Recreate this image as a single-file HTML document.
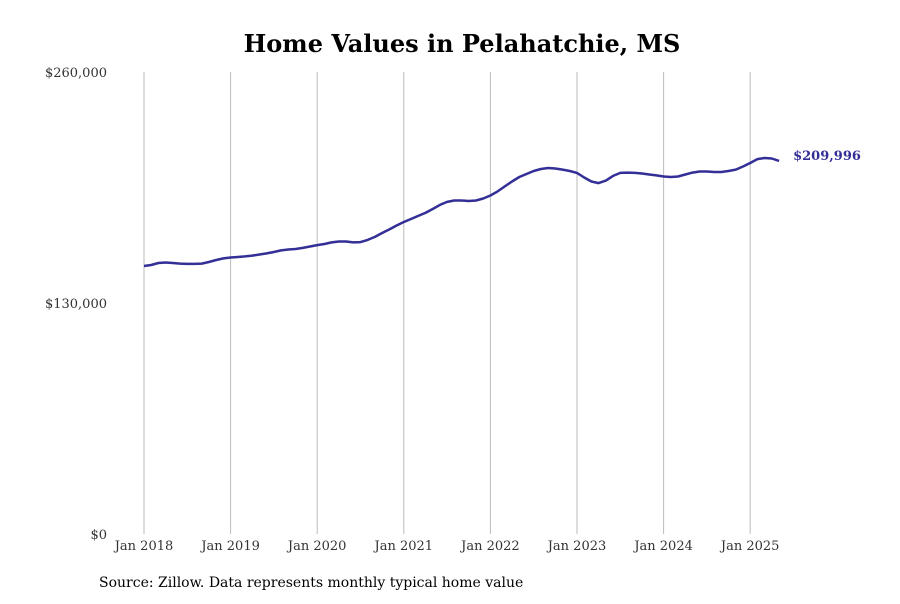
<!DOCTYPE html>
<html><head><meta charset="utf-8"><style>
body{margin:0;background:#fff;font-family:"DejaVu Serif",serif}
svg text{font-family:"DejaVu Serif",serif}
</style></head><body>
<svg width="900" height="600" xmlns="http://www.w3.org/2000/svg">
<rect width="900" height="600" fill="#fff"/>
<text x="462" y="52" text-anchor="middle" font-size="24" font-weight="bold">Home Values in Pelahatchie, MS</text>
<g id="grid"></g><g id="yaxis"></g><g id="xaxis"></g>
<path id="line" fill="none" stroke="#332f96" stroke-width="2.5" stroke-linejoin="round"/>
<text id="lastlabel" font-size="13" font-weight="bold" fill="#332f96"></text>
<text x="99" y="587" font-size="14">Source: Zillow. Data represents monthly typical home value</text>
</svg>
<script>
const yTicks=[0,130000,260000];
const yTickLabels=["$0","$130,000","$260,000"];
const xYears=[2018,2019,2020,2021,2022,2023,2024,2025];
const xTickLabels=["Jan 2018","Jan 2019","Jan 2020","Jan 2021","Jan 2022","Jan 2023","Jan 2024","Jan 2025"];
const startYear=2018;
const values=[150.8,151.4,152.5,152.8,152.5,152.2,152.0,152.0,152.2,153.1,154.2,155.1,
155.6,155.9,156.2,156.7,157.3,157.9,158.7,159.6,160.1,160.4,161.0,161.8,
162.6,163.2,164.1,164.6,164.6,164.1,164.3,165.5,167.2,169.4,171.4,173.6,
175.6,177.3,179.0,180.7,182.9,185.2,186.9,187.7,187.7,187.4,187.7,188.8,
190.5,192.8,195.6,198.4,200.9,202.6,204.3,205.4,206.0,205.7,205.1,204.3,
203.2,200.6,198.4,197.5,198.9,201.5,203.2,203.4,203.2,202.9,202.3,201.8,
201.2,200.9,201.2,202.3,203.4,204.0,204.0,203.7,203.7,204.3,205.1,206.8,
208.8,211.0,211.6,211.3,209.996];
const NS="http://www.w3.org/2000/svg";
const x0=144,yearW=86.6,yBase=534,yTop=72;
function xScale(monthIdx){return x0+monthIdx/12*yearW;}
function yScale(v){return yBase-(v/260000)*(yBase-yTop);}
function mk(tag,attrs,parent){const e=document.createElementNS(NS,tag);for(const k in attrs)e.setAttribute(k,attrs[k]);parent.appendChild(e);return e;}
const grid=document.getElementById('grid'),ya=document.getElementById('yaxis'),xa=document.getElementById('xaxis');
xYears.forEach((yr,i)=>{
 const x=xScale((yr-startYear)*12);
 const l=mk('line',{x1:x,x2:x,y1:yTop,y2:yBase,stroke:'#bbb','stroke-width':1},grid);
 
 
 const t=mk('text',{x:x,y:550,'text-anchor':'middle','font-size':13,fill:'#333'},xa);
 t.textContent=xTickLabels[i];
 
 
});
yTicks.forEach((v,i)=>{
 const t=mk('text',{x:107,y:yScale(v)+5,'text-anchor':'end','font-size':13,fill:'#333'},ya);
 t.textContent=yTickLabels[i];
 
 
});
let d="";
values.forEach((v,i)=>{d+=(i?"L":"M")+xScale(i).toFixed(1)+","+yScale(v*1000).toFixed(1);});
document.getElementById('line').setAttribute('d',d);
const last=values[values.length-1]*1000;
const ll=document.getElementById('lastlabel');
ll.setAttribute('x',xScale(values.length-1)+14);
ll.setAttribute('y',yScale(last)-1);
ll.textContent="$"+Math.round(last).toLocaleString('en-US');
</script>
</body></html>
